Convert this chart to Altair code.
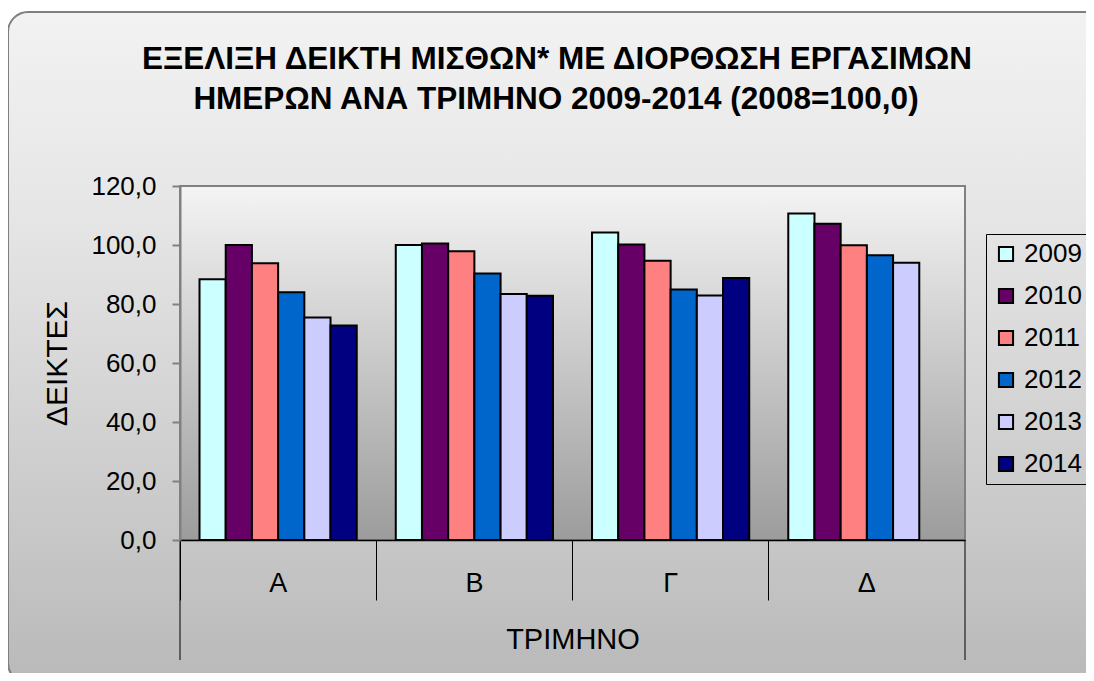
import altair as alt
import pandas as pd

quarters = ["Α", "Β", "Γ", "Δ"]
years = ["2009", "2010", "2011", "2012", "2013", "2014"]
v2009 = [88.4, 100.0, 104.2, 110.7]
v2010 = [100.0, 100.5, 100.2, 107.2]
v2011 = [93.8, 97.9, 94.7, 99.9]
v2012 = [84.0, 90.3, 84.9, 96.5]
v2013 = [75.4, 83.4, 82.9, 94.0]
v2014 = [72.7, 82.8, 88.8, None]
colors = ["#CCFFFF", "#660066", "#FF8080", "#0066CC", "#CCCCFF", "#000080"]
y_ticks = [0, 20, 40, 60, 80, 100, 120]
title_lines = ["ΕΞΕΛΙΞΗ ΔΕΙΚΤΗ ΜΙΣΘΩΝ* ΜΕ ΔΙΟΡΘΩΣΗ ΕΡΓΑΣΙΜΩΝ",
               "ΗΜΕΡΩΝ ΑΝΑ ΤΡΙΜΗΝΟ 2009-2014 (2008=100,0)"]

series = [v2009, v2010, v2011, v2012, v2013, v2014]
rows = []
for yr, vals in zip(years, series):
    for q, v in zip(quarters, vals):
        if v is not None:
            rows.append({"quarter": q, "year": yr, "value": v})
df = pd.DataFrame(rows)

W, H = 785, 354
FONT = "Liberation Sans"

one = pd.DataFrame({"a": [0]})

outer_bg = alt.Chart(one).mark_rect(
    cornerRadius=20, stroke="#7f7f7f", strokeWidth=2, clip=False,
    color=alt.Gradient(gradient="linear", x1=0, x2=0, y1=0, y2=1,
                       stops=[alt.GradientStop(color="#f2f2f2", offset=0),
                              alt.GradientStop(color="#e6e6e6", offset=0.3),
                              alt.GradientStop(color="#b9b9b9", offset=1)]),
).encode(x=alt.value(-172), x2=alt.value(940), y=alt.value(-174), y2=alt.value(497))

plot_bg = alt.Chart(one).mark_rect(
    stroke="#808080", strokeWidth=2,
    color=alt.Gradient(gradient="linear", x1=0, x2=0, y1=0, y2=1,
                       stops=[alt.GradientStop(color="#f4f4f4", offset=0),
                              alt.GradientStop(color="#9c9c9c", offset=1)]),
).encode(x=alt.value(0), x2=alt.value(W), y=alt.value(0), y2=alt.value(H))

side_rules = alt.Chart(pd.DataFrame({"p": [0, W]})).mark_rule(
    color="black", strokeWidth=1, clip=False
).encode(x=alt.X("p:Q", scale=None), y=alt.value(H), y2=alt.value(H + 120))

title1 = alt.Chart(pd.DataFrame({"t": [title_lines[0]]})).mark_text(
    font=FONT, fontSize=31.5, fontWeight="bold", color="black",
    align="center", baseline="alphabetic", clip=False
).encode(text="t:N", x=alt.value(377), y=alt.value(-117))

title2 = alt.Chart(pd.DataFrame({"t": [title_lines[1]]})).mark_text(
    font=FONT, fontSize=31.5, fontWeight="bold", color="black",
    align="center", baseline="alphabetic", clip=False
).encode(text="t:N", x=alt.value(376), y=alt.value(-77))

bars = alt.Chart(df).mark_bar(stroke="black", strokeWidth=2).encode(
    x=alt.X("quarter:N", sort=quarters,
            scale=alt.Scale(paddingInner=0, paddingOuter=0),
            axis=alt.Axis(title="ΤΡΙΜΗΝΟ", labelAngle=0, bandPosition=0,
                          tickSize=60, tickColor="black", tickWidth=1,
                          domainColor="black", domainWidth=1.5,
                          labelFontSize=27, labelFont=FONT, labelColor="black",
                          labelPadding=-30, titleFontSize=29, titleFont=FONT,
                          titleFontWeight="normal", titleColor="black",
                          titlePadding=25, zindex=1)),
    xOffset=alt.XOffset("year:N", sort=years,
                        scale=alt.Scale(paddingInner=0, paddingOuter=0.745)),
    y=alt.Y("value:Q", scale=alt.Scale(domain=[0, 120]),
            axis=alt.Axis(title="ΔΕΙΚΤΕΣ", values=y_ticks, grid=False,
                          labelExpr="replace(format(datum.value, '.1f'), '.', ',')",
                          tickSize=8, tickColor="#808080", tickWidth=2,
                          domainColor="#808080", domainWidth=2,
                          labelFontSize=26, labelFont=FONT, labelColor="black",
                          labelPadding=16, titleFontSize=30, titleFont=FONT,
                          titleFontWeight="normal", titleColor="black",
                          titlePadding=18, zindex=1)),
    color=alt.Color("year:N", sort=years,
                    scale=alt.Scale(domain=years, range=colors),
                    legend=alt.Legend(title=None, orient="none", legendX=806, legendY=48,
                                      symbolType="square", symbolSize=200,
                                      symbolStrokeColor="black", symbolStrokeWidth=2,
                                      labelFontSize=26, labelFont=FONT, labelColor="black",
                                      rowPadding=16, labelOffset=5, padding=7,
                                      strokeColor="black", zindex=1)),
)

chart = alt.layer(outer_bg, plot_bg, side_rules, title1, title2, bars).properties(
    width=W, height=H,
    autosize=alt.AutoSizeParams(type="none"),
    padding={"left": 172, "top": 178, "right": 121, "bottom": 133},
).configure_view(stroke=None)

chart.save("out.html", embed_options={"renderer": "svg", "actions": False})
